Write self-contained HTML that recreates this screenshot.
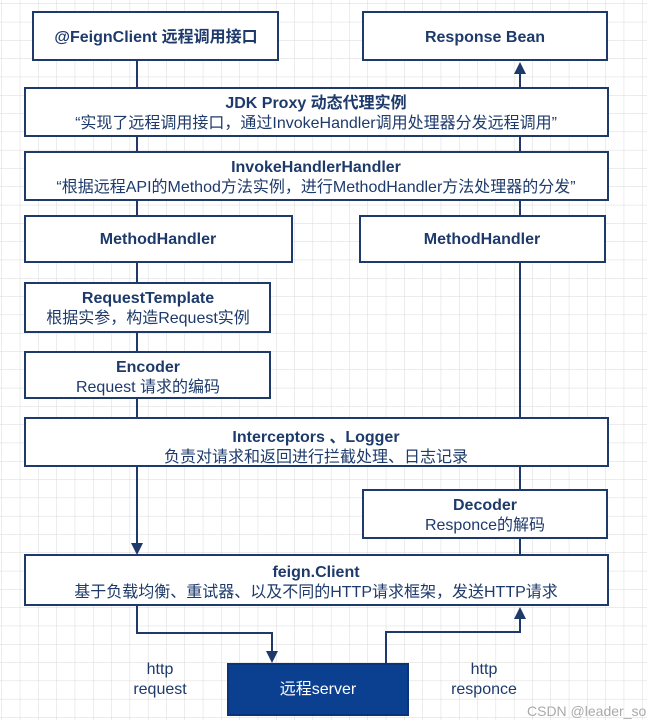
<!DOCTYPE html>
<html><head><meta charset="utf-8"><style>
html,body{margin:0;padding:0;background:#fff;}
svg{display:block;}
text{font-family:"Liberation Sans","Noto Sans CJK SC",sans-serif;fill:#1d3a6b;text-anchor:middle;}
.b{font-weight:bold;font-size:16px;}
.n{font-size:16px;}
</style></head><body>
<svg width="647" height="720" viewBox="0 0 647 720" xmlns="http://www.w3.org/2000/svg">
<defs>
<pattern id="g" width="18.3" height="18.3" patternUnits="userSpaceOnUse" x="2" y="4">
<path d="M18.3 0V18.3M0 18.3H18.3" stroke="#d9d9d9" stroke-width="1" fill="none"/>
</pattern>
</defs>
<rect width="647" height="720" fill="url(#g)"/>
<g stroke="#1d3a6b" stroke-width="2" fill="#fff">
<path d="M137 60V88M137 136V152M137 200V216M137 262V283M137 332V352M137 398V418M137 466V545" fill="none"/>
<path d="M520 72V88M520 136V152M520 200V216M520 262V418M520 466V490M520 538V555" fill="none"/>
<path d="M137 605V633H272V656" fill="none"/>
<path d="M386 664V632H520V614" fill="none"/>
<rect x="33" y="12" width="245" height="48"/>
<rect x="363" y="12" width="244" height="48"/>
<rect x="25" y="88" width="583" height="48"/>
<rect x="25" y="152" width="583" height="48"/>
<rect x="25" y="216" width="267" height="46"/>
<rect x="360" y="216" width="245" height="46"/>
<rect x="25" y="283" width="245" height="49"/>
<rect x="25" y="352" width="245" height="46"/>
<rect x="25" y="418" width="583" height="48"/>
<rect x="363" y="490" width="244" height="48"/>
<rect x="25" y="555" width="583" height="50"/>
<rect x="228" y="664" width="180" height="51" fill="#0b3f8f" stroke="#0a3478"/>
</g>
<g fill="#1d3a6b">
<path d="M514 74L520 62L526 74Z"/>
<path d="M131 543L137 555L143 543Z"/>
<path d="M266 651L272 663L278 651Z"/>
<path d="M514 619L520 607L526 619Z"/>
</g>
<text class="b" x="156" y="42">@FeignClient 远程调用接口</text>
<text class="b" x="485" y="42">Response Bean</text>
<text class="b" x="316" y="108">JDK Proxy 动态代理实例</text>
<text class="n" x="316" y="128">“实现了远程调用接口，通过InvokeHandler调用处理器分发远程调用”</text>
<text class="b" x="316" y="172">InvokeHandlerHandler</text>
<text class="n" x="316" y="192">“根据远程API的Method方法实例，进行MethodHandler方法处理器的分发”</text>
<text class="b" x="158" y="244">MethodHandler</text>
<text class="b" x="482" y="244">MethodHandler</text>
<text class="b" x="148" y="303">RequestTemplate</text>
<text class="n" x="148" y="323">根据实参，构造Request实例</text>
<text class="b" x="148" y="372">Encoder</text>
<text class="n" x="148" y="392">Request 请求的编码</text>
<text class="b" x="316" y="442">Interceptors 、Logger</text>
<text class="n" x="316" y="462">负责对请求和返回进行拦截处理、日志记录</text>
<text class="b" x="485" y="510">Decoder</text>
<text class="n" x="485" y="530">Responce的解码</text>
<text class="b" x="316" y="577">feign.Client</text>
<text class="n" x="316" y="597">基于负载均衡、重试器、以及不同的HTTP请求框架，发送HTTP请求</text>
<text class="n" x="160" y="674">http</text>
<text class="n" x="160" y="694">request</text>
<text class="n" x="484" y="674">http</text>
<text class="n" x="484" y="694">responce</text>
<text x="318" y="694" style="fill:#fff;font-size:16px">远程server</text>
<text x="527" y="716" style="fill:#aaa;font-size:14px;text-anchor:start">CSDN @leader_so</text>
</svg>
</body></html>
